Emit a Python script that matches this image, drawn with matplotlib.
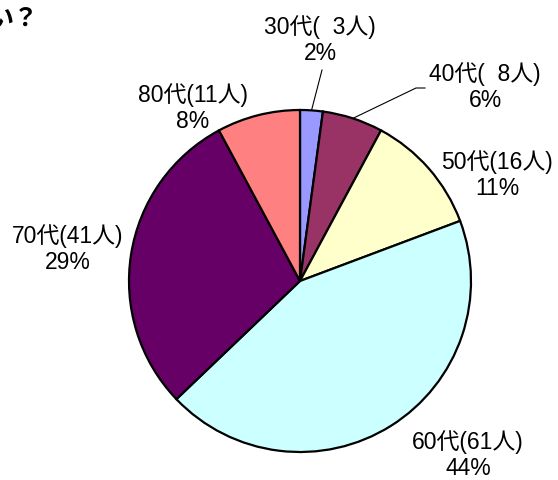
import numpy as np
import matplotlib.pyplot as plt

plt.rcParams['font.family'] = ['Liberation Sans', 'Noto Sans CJK JP', 'DejaVu Sans']

# データ
ages = ['30代', '40代', '50代', '60代', '70代', '80代']
counts = [3, 8, 16, 61, 41, 11]
colors = ['#9999FF', '#993366', '#FFFFCC', '#CCFFFF', '#660066', '#FF8080']

W, H = 558, 480
fig = plt.figure(figsize=(W / 100, H / 100), dpi=100)
ax = fig.add_axes([0, 0, 1, 1])

cx, cy, r = 300, H - 281, 171
wedges, _ = ax.pie(counts, colors=colors, startangle=90, counterclock=False,
                   center=(cx, cy), radius=r,
                   wedgeprops=dict(edgecolor='black', linewidth=1.6))
ax.set_xlim(0, W)
ax.set_ylim(0, H)
ax.set_aspect('equal')
ax.axis('off')

# ラベル位置 (ピクセル, 上から)
label_pos = [(320, 40), (485, 87), (497, 175), (468, 455), (68, 249), (193, 108)]
total = sum(counts)
for i, (a, n) in enumerate(zip(ages, counts)):
    num = f'  {n}' if n < 10 else f'{n}'
    pct = round(n / total * 100)
    x, y = label_pos[i]
    ax.text(x, H - y, f'{a}({num}人)\n{pct}%', ha='center', va='center',
            fontsize=16.5, linespacing=1.2)

# 引き出し線
def edge_point(i):
    w = wedges[i]
    ang = np.deg2rad((w.theta1 + w.theta2) / 2)
    return cx + r * np.cos(ang), cy + r * np.sin(ang)

ex, ey = edge_point(0)
ax.plot([322, ex], [H - 70, ey], color='black', lw=0.8)
ex, ey = edge_point(1)
ax.plot([425, 416, ex], [H - 88, H - 88, ey], color='black', lw=0.8)

# タイトル (切れている)
ax.text(-12, H - 19, 'い？', fontsize=18, fontweight='bold', ha='left', va='center',
        family=['Noto Sans CJK JP', 'DejaVu Sans'])

fig.savefig('out.png', dpi=100)
